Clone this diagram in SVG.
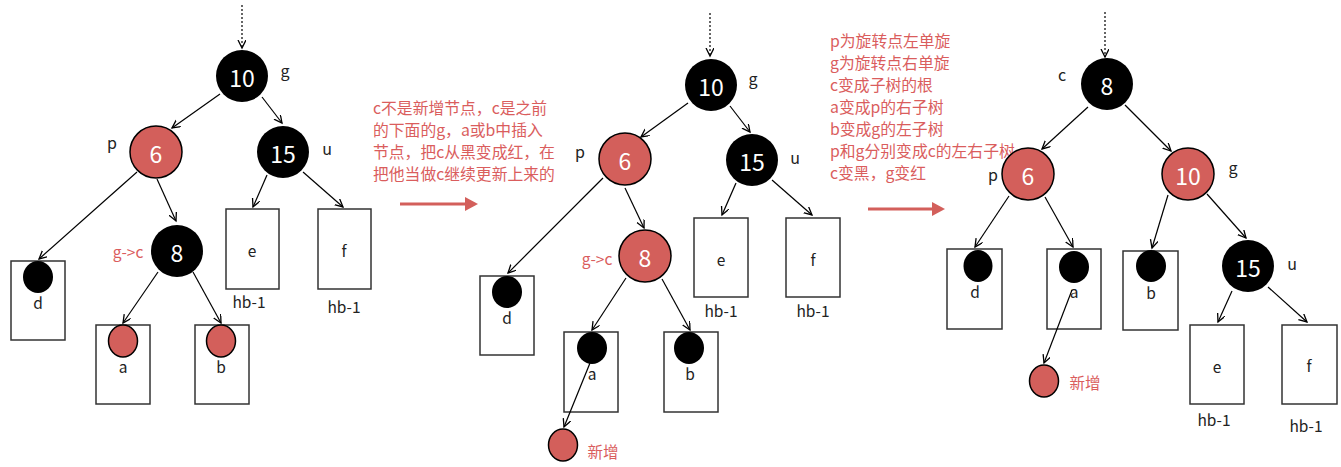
<svg xmlns="http://www.w3.org/2000/svg" width="1341" height="467" viewBox="0 0 1341 467">
<defs>
<marker id="ah" markerWidth="10" markerHeight="10" refX="8" refY="4" orient="auto" markerUnits="userSpaceOnUse">
<path d="M0,0 L8,4 L0,8" fill="none" stroke="#000" stroke-width="1.3"/>
</marker>
<marker id="big" markerWidth="14" markerHeight="16" refX="1" refY="7" orient="auto" markerUnits="userSpaceOnUse">
<path d="M0,0 L13,7 L0,14 Z" fill="#D35F5B"/>
</marker>
</defs>
<style>
text{font-family:"Noto Sans CJK SC","Noto Sans",sans-serif}
.nb{fill:#000}
.nr{fill:#D35F5B;stroke:#000;stroke-width:1.5}
.num{fill:#fff;font-size:23px;text-anchor:middle;dominant-baseline:central}
.lbl{fill:#222;font-size:16px;text-anchor:middle;dominant-baseline:central}
.sl{fill:#222;font-size:15.5px;text-anchor:middle;dominant-baseline:central}
.box{fill:#fff;stroke:#333;stroke-width:1.5}
.rt{fill:#DA5D5D;font-size:15.8px}
.rl{fill:#DA5D5D;font-size:15.5px;text-anchor:middle;dominant-baseline:central}
.e line{stroke:#000;stroke-width:1.2;marker-end:url(#ah)}
.e line.dot{stroke-dasharray:2,2}
.e line.big{stroke:#D35F5B;stroke-width:3;marker-end:url(#big)}
</style>

<!-- ===== Notes ===== -->
<g id="note1">
<text class="rt" x="373" y="113.5">c不是新增节点，c是之前<tspan x="373" dy="22">的下面的g，a或b中插入</tspan><tspan x="373" dy="22">节点，把c从黑变成红，在</tspan><tspan x="373" dy="22">把他当做c继续更新上来的</tspan></text>
</g>
<g id="note2">
<text class="rt" x="830" y="46.5">p为旋转点左单旋<tspan x="830" dy="22">g为旋转点右单旋</tspan><tspan x="830" dy="22">c变成子树的根</tspan><tspan x="830" dy="22">a变成p的右子树</tspan><tspan x="830" dy="22">b变成g的左子树</tspan><tspan x="830" dy="22.5">p和g分别变成c的左右子树</tspan><tspan x="830" dy="22">c变黑，g变红</tspan></text>
</g>

<!-- ===== Left tree ===== -->
<g id="L-box-d"><rect class="box" x="11" y="261" width="54" height="79"/><ellipse class="nb" cx="38" cy="277" rx="15" ry="16"/><text class="sl" x="38" y="302">d</text></g>
<g id="L-box-a"><rect class="box" x="96" y="325" width="54" height="79"/><ellipse class="nr" cx="123" cy="341" rx="14.5" ry="16"/><text class="sl" x="123" y="366">a</text></g>
<g id="L-box-b"><rect class="box" x="195" y="325" width="54" height="79"/><ellipse class="nr" cx="221" cy="341" rx="14.5" ry="16"/><text class="sl" x="221" y="366">b</text></g>
<g id="L-box-e"><rect class="box" x="226" y="209" width="53" height="80"/><text class="sl" x="252" y="250">e</text><text class="sl" x="249" y="301">hb-1</text></g>
<g id="L-box-f"><rect class="box" x="318" y="209" width="53" height="80"/><text class="sl" x="344" y="250">f</text><text class="sl" x="344" y="306">hb-1</text></g>
<g id="L-n10"><circle class="nb" cx="242" cy="76" r="26"/><text class="num" x="242" y="77">10</text><text class="lbl" x="285" y="70">g</text></g>
<g id="L-n6"><circle class="nr" cx="156" cy="152" r="26"/><text class="num" x="156" y="153">6</text><text class="lbl" x="112" y="142">p</text></g>
<g id="L-n15"><circle class="nb" cx="283" cy="152" r="26"/><text class="num" x="283" y="153">15</text><text class="lbl" x="327" y="148">u</text></g>
<g id="L-n8"><circle class="nb" cx="177" cy="251" r="26"/><text class="num" x="177" y="252">8</text><text class="rl" x="128" y="251">g-&gt;c</text></g>

<!-- ===== Middle tree ===== -->
<g id="M-box-d"><rect class="box" x="480" y="276" width="54" height="79"/><ellipse class="nb" cx="507" cy="292" rx="15" ry="16"/><text class="sl" x="507" y="317">d</text></g>
<g id="M-box-a"><rect class="box" x="564" y="332" width="54" height="80"/><ellipse class="nb" cx="592" cy="348" rx="15" ry="16"/><text class="sl" x="592" y="373">a</text></g>
<g id="M-box-b"><rect class="box" x="664" y="332" width="54" height="80"/><ellipse class="nb" cx="689" cy="348" rx="15" ry="16"/><text class="sl" x="690" y="373">b</text></g>
<g id="M-box-e"><rect class="box" x="694" y="218" width="54" height="79"/><text class="sl" x="721" y="259">e</text><text class="sl" x="721" y="310">hb-1</text></g>
<g id="M-box-f"><rect class="box" x="786" y="218" width="54" height="79"/><text class="sl" x="813" y="259">f</text><text class="sl" x="813" y="310">hb-1</text></g>
<g id="M-n10"><circle class="nb" cx="711" cy="85" r="26"/><text class="num" x="711" y="86">10</text><text class="lbl" x="753" y="78">g</text></g>
<g id="M-n6"><circle class="nr" cx="625" cy="159" r="26"/><text class="num" x="625" y="160">6</text><text class="lbl" x="580" y="151">p</text></g>
<g id="M-n15"><circle class="nb" cx="752" cy="160" r="26"/><text class="num" x="752" y="161">15</text><text class="lbl" x="795" y="157">u</text></g>
<g id="M-n8"><circle class="nr" cx="645" cy="256" r="26"/><text class="num" x="645" y="257">8</text><text class="rl" x="597" y="258">g-&gt;c</text></g>
<g id="M-new"><ellipse class="nr" cx="563" cy="445" rx="14.5" ry="16"/><text class="rl" x="603" y="451">新增</text></g>

<!-- ===== Right tree ===== -->
<g id="R-box-d"><rect class="box" x="947" y="249" width="55" height="80"/><ellipse class="nb" cx="978" cy="266" rx="14.5" ry="16"/><text class="sl" x="975" y="291">d</text></g>
<g id="R-box-a"><rect class="box" x="1047" y="249" width="54" height="80"/><ellipse class="nb" cx="1074" cy="267" rx="15" ry="16"/><text class="sl" x="1074" y="291">a</text></g>
<g id="R-box-b"><rect class="box" x="1123" y="251" width="55" height="79"/><ellipse class="nb" cx="1151" cy="266" rx="15" ry="16"/><text class="sl" x="1151" y="292">b</text></g>
<g id="R-box-e"><rect class="box" x="1190" y="325" width="54" height="79"/><text class="sl" x="1217" y="366">e</text><text class="sl" x="1214" y="419">hb-1</text></g>
<g id="R-box-f"><rect class="box" x="1282" y="325" width="55" height="79"/><text class="sl" x="1309" y="365">f</text><text class="sl" x="1306" y="425">hb-1</text></g>
<g id="R-n8"><circle class="nb" cx="1107" cy="84" r="26"/><text class="num" x="1107" y="85">8</text><text class="lbl" x="1062" y="74">c</text></g>
<g id="R-n6"><circle class="nr" cx="1028" cy="174" r="26"/><text class="num" x="1028" y="175">6</text><text class="lbl" x="993" y="174">p</text></g>
<g id="R-n10"><circle class="nr" cx="1188" cy="174" r="26"/><text class="num" x="1188" y="175">10</text><text class="lbl" x="1233" y="167">g</text></g>
<g id="R-n15"><circle class="nb" cx="1248" cy="266" r="26"/><text class="num" x="1248" y="267">15</text><text class="lbl" x="1292" y="263">u</text></g>
<g id="R-new"><ellipse class="nr" cx="1044" cy="381" rx="14.5" ry="16"/><text class="rl" x="1085" y="382">新增</text></g>

<!-- ===== Connectors ===== -->
<g id="connectors" class="e">
<line class="dot" x1="242" y1="5" x2="242" y2="48"/>
<line x1="220" y1="94" x2="172" y2="128"/>
<line x1="262" y1="97" x2="282" y2="123"/>
<line x1="267" y1="175" x2="253" y2="207"/>
<line x1="303" y1="172" x2="343" y2="207"/>
<line x1="137" y1="172" x2="39" y2="259"/>
<line x1="157" y1="179" x2="176" y2="221"/>
<line x1="158" y1="272" x2="123" y2="323"/>
<line x1="193" y1="272" x2="221" y2="323"/>

<line class="big" x1="400" y1="204" x2="466" y2="204"/>

<line class="dot" x1="710" y1="13" x2="710" y2="56"/>
<line x1="688" y1="103" x2="641" y2="137"/>
<line x1="730" y1="106" x2="750" y2="132"/>
<line x1="736" y1="183" x2="722" y2="215"/>
<line x1="772" y1="180" x2="812" y2="215"/>
<line x1="603" y1="178" x2="508" y2="273"/>
<line x1="625" y1="188" x2="644" y2="228"/>
<line x1="626" y1="278" x2="592" y2="330"/>
<line x1="662" y1="279" x2="690" y2="330"/>
<line x1="590" y1="363" x2="564" y2="427"/>

<line class="big" x1="868" y1="209" x2="933" y2="209"/>

<line class="dot" x1="1105" y1="12" x2="1105" y2="57"/>
<line x1="1088" y1="107" x2="1042" y2="149"/>
<line x1="1125" y1="105" x2="1171" y2="151"/>
<line x1="1009" y1="196" x2="975" y2="247"/>
<line x1="1045" y1="197" x2="1073" y2="247"/>
<line x1="1168" y1="195" x2="1152" y2="248"/>
<line x1="1207" y1="194" x2="1246" y2="238"/>
<line x1="1232" y1="291" x2="1218" y2="322"/>
<line x1="1268" y1="287" x2="1307" y2="322"/>
<line x1="1072" y1="290" x2="1044" y2="363"/>
</g>
</svg>
